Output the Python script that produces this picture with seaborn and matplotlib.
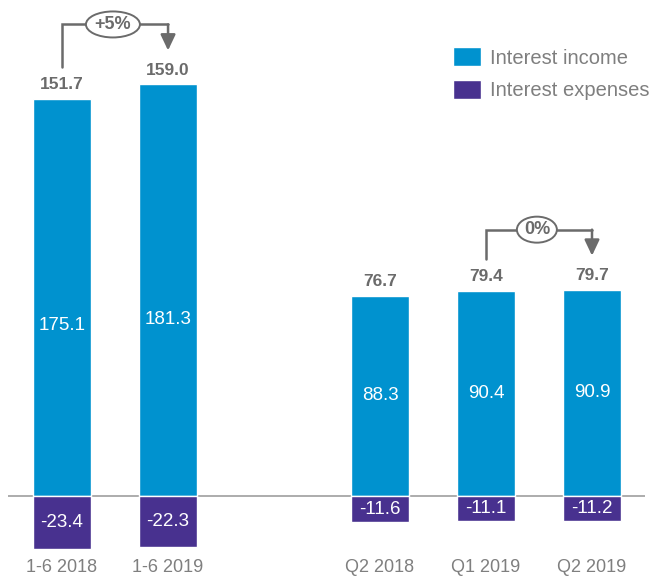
import numpy as np
import pandas as pd
import matplotlib
matplotlib.use('Agg')
import matplotlib.pyplot as plt
import seaborn as sns
from matplotlib.patches import Patch, Ellipse

# data
periods = ['1-6 2018', '1-6 2019', ' ', 'Q2 2018', 'Q1 2019', 'Q2 2019']
income = [175.1, 181.3, np.nan, 88.3, 90.4, 90.9]
expenses = [-23.4, -22.3, np.nan, -11.6, -11.1, -11.2]
totals = ['151.7', '159.0', '', '76.7', '79.4', '79.7']
changes = [(0, 1, '+5%'), (4, 5, '0%')]

blue = '#0092CF'
purple = '#48318F'
grey = '#7f7f7f'
dark = '#6b6b6b'

sns.set_style('white')
plt.rcParams['font.family'] = ['Liberation Sans', 'DejaVu Sans']

df = pd.DataFrame({
    'period': periods * 2,
    'value': income + expenses,
    'series': ['Interest income'] * 6 + ['Interest expenses'] * 6,
})

fig = plt.figure(figsize=(6.55, 5.81), dpi=100)
W, H = 655, 581
ax = fig.add_axes([8 / W, (H - 555) / H, 637 / W, 555 / H])

sns.barplot(data=df, x='period', y='value', hue='series', order=periods,
            hue_order=['Interest income', 'Interest expenses'],
            palette=[blue, purple], dodge=False, width=0.55, legend=False,
            saturation=1, ax=ax)

px = 2.27  # pixels per data unit
ax.set_ylim(-(555 - 496) / px, 496 / px)
ax.set_xlim(-0.51, 5.5)
ax.axhline(0, color='#a6a6a6', lw=1.3, zorder=0)
sns.despine(ax=ax, left=True, bottom=True)
ax.set_yticks([])
ax.set_xlabel('')
ax.set_ylabel('')
ax.tick_params(axis='x', length=0, pad=3, labelsize=13, labelcolor=grey)

for i, (inc, exp, tot) in enumerate(zip(income, expenses, totals)):
    if np.isnan(inc):
        continue
    yin = inc / 2 if inc < 100 else inc * 0.43
    ax.text(i, yin, f'{inc:.1f}', ha='center', va='center', color='white', fontsize=13.5)
    ax.text(i, exp / 2, f'{exp:.1f}', ha='center', va='center', color='white', fontsize=13.5)
    ax.text(i, inc + 14 / px, tot, ha='center', va='center', color=dark,
            fontsize=12.5, fontweight='bold')

for a, b, lab in changes:
    ya = income[a] + 32 / px
    yb = income[b] + 34 / px
    top = max(income[a], income[b]) + 60 / px
    ax.plot([a, a, b], [ya, top, top], color=dark, lw=1.8, solid_joinstyle='miter')
    ax.annotate('', xy=(b, yb), xytext=(b, top),
                arrowprops=dict(arrowstyle='-|>,head_width=0.45,head_length=0.95',
                                color=dark, lw=1.8, shrinkA=0, shrinkB=0))
    xm = (a + b) / 2 - 0.02
    ax.add_patch(Ellipse((xm, top), width=(54 if len(lab) > 2 else 40) / 106,
                         height=26 / px, facecolor='white', edgecolor=dark, lw=1.4, zorder=5))
    ax.text(xm, top, lab, ha='center', va='center', color=dark, fontsize=13,
            fontweight='bold', zorder=6)

handles = [Patch(facecolor=blue, label='Interest income'),
           Patch(facecolor=purple, label='Interest expenses')]
leg = fig.legend(handles=handles, loc='upper left', bbox_to_anchor=(453 / W, 1 - 47 / H),
                 frameon=False, fontsize=14.5, handlelength=1.4, handleheight=1.1,
                 handletextpad=0.45, labelspacing=0.6, borderaxespad=0, borderpad=0)
for t in leg.get_texts():
    t.set_color(grey)

fig.savefig('out.png', dpi=100)
